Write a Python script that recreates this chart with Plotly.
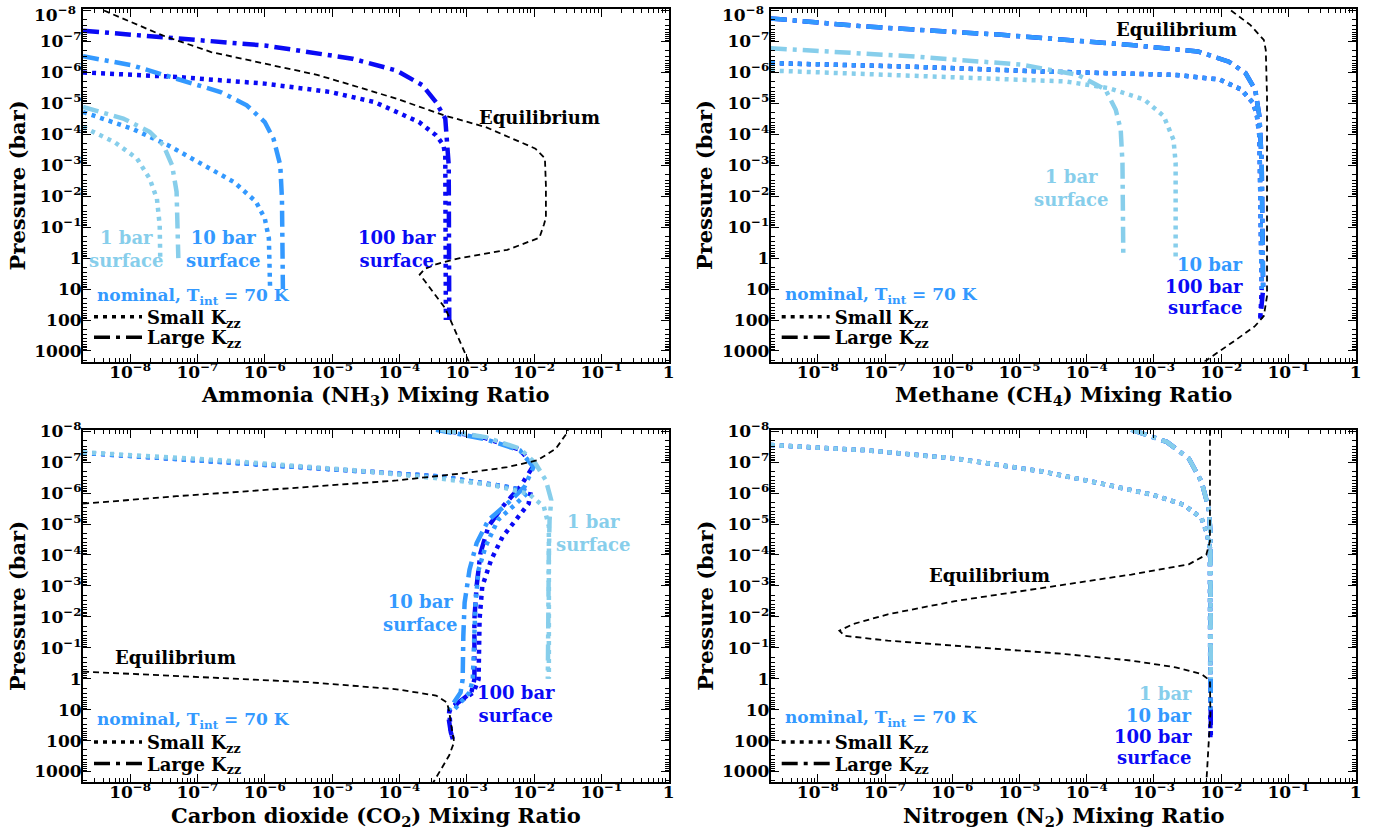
import plotly.graph_objects as go

FONT = "DejaVu Serif"
LIGHT = "#87CEEB"
MED = "#3399FF"
DARK = "#0A0AF5"
SHADE = "#ECF5FE"

# ---------------- data: NH3 ----------------
NH3_EQ_X = [4.1e-9, 3.1e-8, 1.6e-7, 1.0e-6, 6.0e-6, 2.0e-5, 9.1e-5, 4.8e-4, 1.9e-3, 1.05e-2, 1.45e-2, 1.5e-2,
            1.5e-2, 1.4e-2, 1.2e-2, 4.0e-3, 7.9e-4, 3.6e-4, 2.4e-4, 2.0e-4, 2.4e-4, 4.8e-4, 1.1e-3]
NH3_EQ_P = [1e-8, 6.5e-8, 2.2e-7, 5.2e-7, 1.2e-6, 2.6e-6, 7.1e-6, 2.5e-5, 5.8e-5, 2.9e-4, 6.0e-4, 4.5e-3,
            0.05, 0.083, 0.22, 0.54, 1.0, 1.55, 2.2, 3.4, 5.6, 42, 2500]
NH3_L100_X = [2.0e-9, 3.1e-8, 1.0e-6, 2.0e-5, 9.1e-5, 2.2e-4, 3.5e-4, 4.8e-4, 5.1e-4, 5.4e-4, 5.5e-4]
NH3_L100_P = [4.5e-8, 7.2e-8, 1.35e-7, 3.6e-7, 8.7e-7, 2.6e-6, 9.1e-6, 3.1e-5, 1.4e-4, 1.0e-3, 100]
NH3_S100_X = [2.0e-9, 4.9e-8, 1.0e-6, 9.5e-6, 4.3e-5, 1.95e-4, 3.5e-4, 4.5e-4, 4.8e-4, 4.9e-4]
NH3_S100_P = [1.0e-6, 1.4e-6, 2.3e-6, 4.3e-6, 9.1e-6, 4.0e-5, 1.07e-4, 2.2e-4, 4.8e-4, 100]
NH3_L10_X = [2.0e-9, 1.07e-8, 4.9e-8, 2.2e-7, 5.4e-7, 1.0e-6, 1.35e-6, 1.7e-6, 1.8e-6, 1.86e-6]
NH3_L10_P = [3.0e-7, 5.9e-7, 1.6e-6, 4.3e-6, 1.15e-5, 4.0e-5, 1.4e-4, 1.0e-3, 1.2e-2, 10]
NH3_S10_X = [2.0e-9, 1.07e-8, 3.6e-8, 1.02e-7, 3.5e-7, 7.4e-7, 1.0e-6, 1.15e-6, 1.2e-6]
NH3_S10_P = [1.9e-5, 6.6e-5, 2.2e-4, 7.8e-4, 3.5e-3, 1.5e-2, 5.2e-2, 0.23, 10]
NH3_L1_X = [2.0e-9, 7.9e-9, 1.95e-8, 3.1e-8, 4.2e-8, 4.9e-8, 5.2e-8]
NH3_L1_P = [1.3e-5, 3.1e-5, 8.3e-5, 2.2e-4, 1.0e-3, 7.2e-3, 1.0]
NH3_S1_X = [2.0e-9, 5.9e-9, 1.26e-8, 1.95e-8, 2.5e-8, 2.75e-8, 2.8e-8]
NH3_S1_P = [5.8e-5, 1.8e-4, 6.0e-4, 2.7e-3, 1.2e-2, 8.7e-2, 1.0]

# ---------------- data: CH4 ----------------
CH4_EQ_X = [1.4e-2, 2.7e-2, 4.3e-2, 4.6e-2, 4.8e-2, 4.8e-2, 4.3e-2, 3.2e-2, 1.7e-2, 5.2e-3]
CH4_EQ_P = [1e-8, 2.9e-8, 8.9e-8, 1.9e-7, 5.9e-6, 17, 74, 155, 420, 2500]
CH4_L100_X = [2.0e-9, 5.2e-8, 4.9e-6, 4.6e-4, 4.5e-3, 1.3e-2, 2.3e-2, 3.2e-2, 3.7e-2, 4.0e-2, 4.2e-2, 3.8e-2]
CH4_L100_P = [1.8e-8, 3.3e-8, 6.0e-8, 1.3e-7, 2.1e-7, 4.5e-7, 1.05e-6, 3.6e-6, 2.6e-5, 8.3e-4, 10, 100]
CH4_L10_X = [2.0e-9, 5.2e-8, 4.9e-6, 4.6e-4, 4.5e-3, 1.3e-2, 2.3e-2, 3.2e-2, 3.7e-2, 4.0e-2, 4.2e-2]
CH4_L10_P = [1.8e-8, 3.3e-8, 6.0e-8, 1.3e-7, 2.1e-7, 4.5e-7, 1.05e-6, 3.6e-6, 2.6e-5, 8.3e-4, 10]
CH4_S100_X = [2.0e-9, 2.4e-7, 2.2e-5, 2.1e-3, 9.5e-3, 2.0e-2, 3.0e-2, 3.4e-2, 3.7e-2, 4.0e-2, 3.8e-2]
CH4_S100_P = [5.0e-7, 6.5e-7, 9.3e-7, 1.2e-6, 1.7e-6, 3.6e-6, 9.8e-6, 2.6e-5, 1.15e-4, 10, 100]
CH4_S10_X = [2.0e-9, 2.4e-7, 2.2e-5, 2.1e-3, 9.5e-3, 2.0e-2, 3.0e-2, 3.4e-2, 3.7e-2, 4.0e-2]
CH4_S10_P = [5.0e-7, 6.5e-7, 9.3e-7, 1.2e-6, 1.7e-6, 3.6e-6, 9.8e-6, 2.6e-5, 1.15e-4, 10]
CH4_L1_X = [2.0e-9, 2.4e-7, 1.05e-5, 7.4e-5, 1.9e-4, 2.7e-4, 3.2e-4, 3.4e-4, 3.5e-4]
CH4_L1_P = [1.66e-7, 3.0e-7, 5.6e-7, 1.2e-6, 3.6e-6, 1.6e-5, 7.1e-5, 8.3e-4, 1.0]
CH4_S1_X = [2.0e-9, 2.4e-7, 4.8e-5, 2.1e-4, 7.2e-4, 1.4e-3, 1.95e-3, 2.1e-3, 2.1e-3]
CH4_S1_P = [8.7e-7, 1.3e-6, 1.95e-6, 3.2e-6, 7.6e-6, 2.6e-5, 1.5e-4, 8.3e-4, 1.0]

# ---------------- data: CO2 ----------------
CO2_EQ_X = [2.0e-9, 4.9e-8, 4.5e-6, 9.1e-5, 8.7e-4, 4.0e-3, 1.12e-2, 2.1e-2, 3.0e-2, 3.2e-2, None,
            2.0e-9, 4.9e-8, 4.5e-6, 9.1e-5, 3.5e-4, 5.1e-4, 5.5e-4, 6.0e-4, 6.5e-4, 5.5e-4, 3.1e-4]
CO2_EQ_P = [2.2e-6, 1.26e-6, 6.3e-7, 3.9e-7, 2.3e-7, 1.45e-7, 8.7e-8, 3.7e-8, 1.23e-8, 8.9e-9, None,
            0.59, 0.81, 1.3, 2.2, 3.5, 5.9, 12, 42, 112, 300, 2500]
CO2_L1_X = [4.1e-4, 1.9e-3, 6.2e-3, 1.05e-2, 1.5e-2, 1.8e-2, 1.7e-2, 1.66e-2, 1.6e-2]
CO2_L1_P = [8.9e-9, 1.55e-8, 3.7e-8, 1.1e-7, 3.9e-7, 1.7e-6, 7.4e-6, 8.7e-5, 1.0]
CO2_S1_X = [2.0e-9, 2.2e-7, 2.0e-5, 4.1e-4, 2.5e-3, 8.3e-3, 1.4e-2, 1.66e-2, 1.66e-2, 1.66e-2]
CO2_S1_P = [4.8e-8, 8.7e-8, 1.8e-7, 3.4e-7, 5.6e-7, 1.05e-6, 2.75e-6, 1.2e-5, 8.7e-5, 1.0]
CO2_L10_X = [3.5e-4, 1.9e-3, 6.2e-3, 9.8e-3, 7.2e-3, 4.0e-3, 2.1e-3, 1.4e-3, 1.1e-3, 9.3e-4, 8.9e-4, 8.7e-4,
             8.1e-4, 6.5e-4, 5.5e-4]
CO2_L10_P = [8.9e-9, 1.8e-8, 4.2e-8, 1.45e-7, 6.3e-7, 2.2e-6, 7.4e-6, 4.2e-5, 3.0e-4, 3.5e-3, 4.2e-2, 1.05,
             2.8, 5.9, 10]
CO2_S10_X = [2.0e-9, 2.0e-5, 4.1e-4, 4.0e-3, 8.3e-3, 5.4e-3, 2.9e-3, 1.9e-3, 1.5e-3, 1.35e-3, 1.26e-3, 1.23e-3,
             1.1e-3, 8.1e-4, 6.5e-4]
CO2_S10_P = [5.0e-8, 1.8e-7, 2.9e-7, 6.3e-7, 9.1e-7, 2.2e-6, 7.4e-6, 5.4e-5, 3.0e-4, 3.5e-3, 0.145, 1.05,
             2.8, 5.9, 10]
CO2_L100_X = [4.1e-4, 1.9e-3, 6.2e-3, 9.8e-3, 6.2e-3, 3.4e-3, 2.1e-3, 1.6e-3, 1.4e-3, 1.3e-3, 1.3e-3, 1.17e-3,
              8.7e-4, 6.5e-4, 5.5e-4, 5.4e-4, 5.8e-4, 6.3e-4]
CO2_L100_P = [8.9e-9, 1.66e-8, 4.0e-8, 1.3e-7, 6.3e-7, 2.75e-6, 1.2e-5, 8.7e-5, 1.05e-3, 1.2e-2, 1.05, 2.8,
              4.6, 7.4, 11, 20, 54, 100]
CO2_S100_X = [2.0e-9, 2.0e-5, 4.1e-4, 4.0e-3, 8.9e-3, 8.3e-3, 5.4e-3, 3.4e-3, 2.3e-3, 1.7e-3, 1.55e-3, 1.5e-3,
              1.26e-3, 8.7e-4, 6.5e-4, 5.5e-4, 5.8e-4, 6.3e-4]
CO2_S100_P = [5.0e-8, 1.8e-7, 2.9e-7, 6.3e-7, 9.1e-7, 2.2e-6, 7.4e-6, 2.6e-5, 1.45e-4, 1.05e-3, 1.2e-2, 1.05,
              2.8, 5.1, 7.4, 11, 54, 100]

# ---------------- data: N2 ----------------
N2_EQ_X = [6.8e-3, 6.8e-3, 6.0e-3, 3.3e-3, 4.6e-4, 2.2e-5, 1.1e-6, 1.1e-7, 3.4e-8, 2.1e-8, 2.5e-8, 1.1e-7,
           2.3e-6, 4.8e-5, 4.6e-4, 2.1e-3, 5.1e-3, 6.8e-3, 6.9e-3, 6.5e-3, 6.0e-3]
N2_EQ_P = [8.9e-9, 3.6e-5, 9.8e-5, 2.0e-4, 4.3e-4, 1.15e-3, 3.1e-3, 8.3e-3, 1.7e-2, 2.8e-2, 4.1e-2, 5.9e-2,
           9.8e-2, 0.16, 0.26, 0.43, 0.71, 1.15, 13.5, 158, 2500]
N2_SMALL_X = [2.0e-9, 5.2e-8, 1.1e-6, 2.2e-5, 2.1e-4, 9.8e-4, 2.8e-3, 5.1e-3, 6.0e-3, 6.8e-3]
N2_SMALL_P = [2.8e-8, 4.1e-8, 7.6e-8, 2.0e-7, 5.5e-7, 1.15e-6, 2.4e-6, 6.5e-6, 1.7e-5, 5.9e-5]
N2_LARGE_X = [4.6e-4, 1.55e-3, 3.3e-3, 5.1e-3, 6.5e-3, 6.9e-3]
N2_LARGE_P = [8.9e-9, 2.2e-8, 7.6e-8, 4.3e-7, 3.1e-6, 1.7e-5]
N2_SMALL_SURF_X = 6.9e-3
N2_LARGE_SURF_X = 7.0e-3
SURFACE_P = [1, 10, 100]

# ---------------- ticks ----------------
X_TICKS = [1e-8, 1e-7, 1e-6, 1e-5, 1e-4, 1e-3, 1e-2, 1e-1, 1]
X_TEXT = ["10<sup>\u22128</sup>", "10<sup>\u22127</sup>", "10<sup>\u22126</sup>", "10<sup>\u22125</sup>",
          "10<sup>\u22124</sup>", "10<sup>\u22123</sup>", "10<sup>\u22122</sup>", "10<sup>\u22121</sup>", "1"]
Y_TICKS = [1e-8, 1e-7, 1e-6, 1e-5, 1e-4, 1e-3, 1e-2, 1e-1, 1, 10, 100, 1000]
Y_TEXT = ["10<sup>\u22128</sup>", "10<sup>\u22127</sup>", "10<sup>\u22126</sup>", "10<sup>\u22125</sup>",
          "10<sup>\u22124</sup>", "10<sup>\u22123</sup>", "10<sup>\u22122</sup>", "10<sup>\u22121</sup>",
          "1", "10", "100", "1000"]
X_MINOR = [m * 10.0 ** k for k in range(-9, 0) for m in range(2, 10)]
Y_MINOR = [m * 10.0 ** k for k in range(-9, 4) for m in range(2, 10)]

TITLES = ["Ammonia (NH<sub>3</sub>) Mixing Ratio", "Methane (CH<sub>4</sub>) Mixing Ratio",
          "Carbon dioxide (CO<sub>2</sub>) Mixing Ratio", "Nitrogen (N<sub>2</sub>) Mixing Ratio"]

DOT = "4px,5px"
DASHDOT = "16px,6px,4px,6px"
EQDASH = "6px,4px"
LW = 4.5

fig = go.Figure()


def add(panel, x, y, color, dash, width=LW):
    sfx = "" if panel == 1 else str(panel)
    fig.add_trace(go.Scatter(x=x, y=y, mode="lines", xaxis="x" + sfx, yaxis="y" + sfx,
                             line=dict(color=color, width=width, dash=dash),
                             showlegend=False, hoverinfo="skip", connectgaps=False))


# panel 1 NH3
add(1, NH3_S100_X, NH3_S100_P, DARK, DOT)
add(1, NH3_L100_X, NH3_L100_P, DARK, DASHDOT)
add(1, NH3_S10_X, NH3_S10_P, MED, DOT)
add(1, NH3_L10_X, NH3_L10_P, MED, DASHDOT)
add(1, NH3_S1_X, NH3_S1_P, LIGHT, DOT)
add(1, NH3_L1_X, NH3_L1_P, LIGHT, DASHDOT)
add(1, NH3_EQ_X, NH3_EQ_P, "black", EQDASH, 1.8)
# panel 2 CH4
add(2, CH4_S100_X, CH4_S100_P, DARK, DOT)
add(2, CH4_L100_X, CH4_L100_P, DARK, DASHDOT)
add(2, CH4_S10_X, CH4_S10_P, MED, DOT)
add(2, CH4_L10_X, CH4_L10_P, MED, DASHDOT)
add(2, CH4_S1_X, CH4_S1_P, LIGHT, DOT)
add(2, CH4_L1_X, CH4_L1_P, LIGHT, DASHDOT)
add(2, CH4_EQ_X, CH4_EQ_P, "black", EQDASH, 1.8)
# panel 3 CO2
add(3, CO2_S100_X, CO2_S100_P, DARK, DOT)
add(3, CO2_L100_X, CO2_L100_P, DARK, DASHDOT)
add(3, CO2_S10_X, CO2_S10_P, MED, DOT)
add(3, CO2_L10_X, CO2_L10_P, MED, DASHDOT)
add(3, CO2_S1_X, CO2_S1_P, LIGHT, DOT)
add(3, CO2_L1_X, CO2_L1_P, LIGHT, DASHDOT)
add(3, CO2_EQ_X, CO2_EQ_P, "black", EQDASH, 1.8)
# panel 4 N2
for surf, col in zip(SURFACE_P[::-1], [DARK, MED, LIGHT]):
    add(4, N2_SMALL_X + [N2_SMALL_SURF_X], N2_SMALL_P + [surf], col, DOT)
    add(4, N2_LARGE_X + [N2_LARGE_SURF_X], N2_LARGE_P + [surf], col, DASHDOT)
add(4, N2_EQ_X, N2_EQ_P, "black", EQDASH, 1.8)

W, H = 1382, 839


def px(sx):
    return sx / W


def py(sy):
    return 1 - sy / H


XD = [[px(83), px(668.7)], [px(770.7), px(1355.7)]]
YD = [[py(361.5), py(9.3)], [py(782), py(430)]]
POS = {1: (0, 0), 2: (1, 0), 3: (0, 1), 4: (1, 1)}
LEG_ROWS = [[317.0, 337.5], [742.2, 763.8]]
XTITLE_Y = [395.5, 816.5]

layout = dict(width=W, height=H, margin=dict(l=0, r=0, t=0, b=0, autoexpand=False), paper_bgcolor="white",
              plot_bgcolor="white", font=dict(family=FONT, color="black"), showlegend=True)

shapes = []
annotations = []
leg_n = 0
for i in range(1, 5):
    c, r = POS[i]
    sfx = "" if i == 1 else str(i)
    # the top row's first pressure label sits at the page edge; it is written as a text just below
    y_text = ["<b>" + t + "</b>" for t in Y_TEXT]
    if r == 0:
        y_text[0] = ""
        annotations.append(dict(text="<b>" + Y_TEXT[0] + "</b>", xref="paper", yref="paper",
                                x=XD[c][0] - 5 / W, y=1 - 0.5 / H, xanchor="right", yanchor="top",
                                showarrow=False, font=dict(size=17, family=FONT, color="black")))
    layout["xaxis" + sfx] = dict(
        type="log", domain=XD[c], anchor="y" + sfx, range=[-8.70, 0], automargin=False,
        tickmode="array", tickvals=X_TICKS, ticktext=["<b>" + t + "</b>" for t in X_TEXT],
        ticks="inside", ticklen=8, tickwidth=1.3, ticklabelstandoff=-6, ticklabeloverflow="allow",
        tickcolor="black", showline=True, linewidth=2, linecolor="black", mirror="allticks",
        showgrid=False, zeroline=False, tickfont=dict(size=17, family=FONT, color="black"),
        minor=dict(tickmode="array", tickvals=X_MINOR, ticks="inside", ticklen=4, tickwidth=1,
                   tickcolor="black", showgrid=False))
    layout["yaxis" + sfx] = dict(
        type="log", domain=YD[r], anchor="x" + sfx, range=[3.34, -8.04], automargin=False,
        tickmode="array", tickvals=Y_TICKS, ticktext=y_text,
        ticks="inside", ticklen=8, tickwidth=1.3, ticklabelstandoff=-4, ticklabeloverflow="allow",
        tickcolor="black", showline=True, linewidth=2, linecolor="black", mirror="allticks",
        showgrid=False, zeroline=False, tickfont=dict(size=17, family=FONT, color="black"),
        minor=dict(tickmode="array", tickvals=Y_MINOR, ticks="inside", ticklen=4, tickwidth=1,
                   tickcolor="black", showgrid=False))
    shapes.append(dict(type="rect", xref="x" + sfx + " domain", yref="y" + sfx, x0=0, x1=1, y0=-4, y1=0,
                       fillcolor=SHADE, line=dict(width=0), layer="below"))
    # axis titles
    annotations.append(dict(text="<b>" + TITLES[i - 1] + "</b>", xref="paper", yref="paper",
                            x=(XD[c][0] + XD[c][1]) / 2, y=py(XTITLE_Y[r]), xanchor="center",
                            yanchor="middle", showarrow=False, font=dict(size=21, family=FONT, color="black")))
    annotations.append(dict(text="<b>Pressure (bar)</b>", xref="paper", yref="paper",
                            x=px(17) if c == 0 else px(17 + 687.7), y=(YD[r][0] + YD[r][1]) / 2,
                            xanchor="center", yanchor="middle", textangle=-90, showarrow=False,
                            font=dict(size=21, family=FONT, color="black")))
    # legends: one legend per entry so rows can be placed exactly
    for k, (name, dash) in enumerate([("<b>Small K<sub>zz</sub></b>", DOT),
                                      ("<b>Large K<sub>zz</sub></b>", DASHDOT)]):
        leg_n += 1
        lg = "legend" if leg_n == 1 else "legend" + str(leg_n)
        fig.add_trace(go.Scatter(x=[None], y=[None], mode="lines", name=name, xaxis="x" + sfx,
                                 yaxis="y" + sfx, line=dict(color="black", width=3.5, dash=dash),
                                 legend=lg, showlegend=True, hoverinfo="skip"))
        layout[lg] = dict(x=XD[c][0] + 6 / W, y=py(LEG_ROWS[r][k]), xanchor="left", yanchor="middle",
                          bgcolor="rgba(0,0,0,0)", borderwidth=0, itemwidth=48,
                          font=dict(size=18, family=FONT, color="black"))


def ann(panel, text, x, y, color, size=18, xanchor="center"):
    sfx = "" if panel == 1 else str(panel)
    annotations.append(dict(text="<b>" + text + "</b>", x=x, y=y, xref="x" + sfx, yref="y" + sfx,
                            showarrow=False, xanchor=xanchor, yanchor="middle",
                            font=dict(size=size, family=FONT, color=color)))


NOMINAL = "nominal, T<sub>int</sub> = 70 K"
# panel 1
ann(1, "Equilibrium", -1.92, -4.53, "black")
ann(1, "1 bar<br>surface", -8.06, -0.31, LIGHT)
ann(1, "10 bar<br>surface", -6.61, -0.31, MED)
ann(1, "100 bar<br>surface", -4.04, -0.31, DARK)
ann(1, NOMINAL, -8.52, 1.23, MED, 17, "left")
# panel 2
ann(2, "Equilibrium", -2.66, -7.38, "black")
ann(2, "1 bar<br>surface", -4.22, -2.27, LIGHT)
ann(2, "10 bar", -1.65, 0.20, MED, 18, "right")
ann(2, "100 bar", -1.65, 0.92, DARK, 18, "right")
ann(2, "surface", -1.65, 1.60, DARK, 18, "right")
ann(2, NOMINAL, -8.52, 1.20, MED, 17, "left")
# panel 3
ann(3, "Equilibrium", -7.33, -0.70, "black")
ann(3, "1 bar<br>surface", -1.11, -4.70, LIGHT)
ann(3, "10 bar<br>surface", -3.68, -2.13, MED)
ann(3, "100 bar<br>surface", -2.27, 0.82, DARK)
ann(3, NOMINAL, -8.52, 1.36, MED, 17, "left")
# panel 4
ann(4, "Equilibrium", -5.44, -3.34, "black")
ann(4, "1 bar", -2.41, 0.49, LIGHT, 18, "right")
ann(4, "10 bar", -2.41, 1.19, MED, 18, "right")
ann(4, "100 bar", -2.41, 1.86, DARK, 18, "right")
ann(4, "surface", -2.41, 2.56, DARK, 18, "right")
ann(4, NOMINAL, -8.52, 1.30, MED, 17, "left")

layout["shapes"] = shapes
layout["annotations"] = annotations
fig.update_layout(**layout)
fig.write_html("out.html", config={"displayModeBar": False},
               post_script="document.body.style.margin='0';document.body.style.overflow='hidden';")
